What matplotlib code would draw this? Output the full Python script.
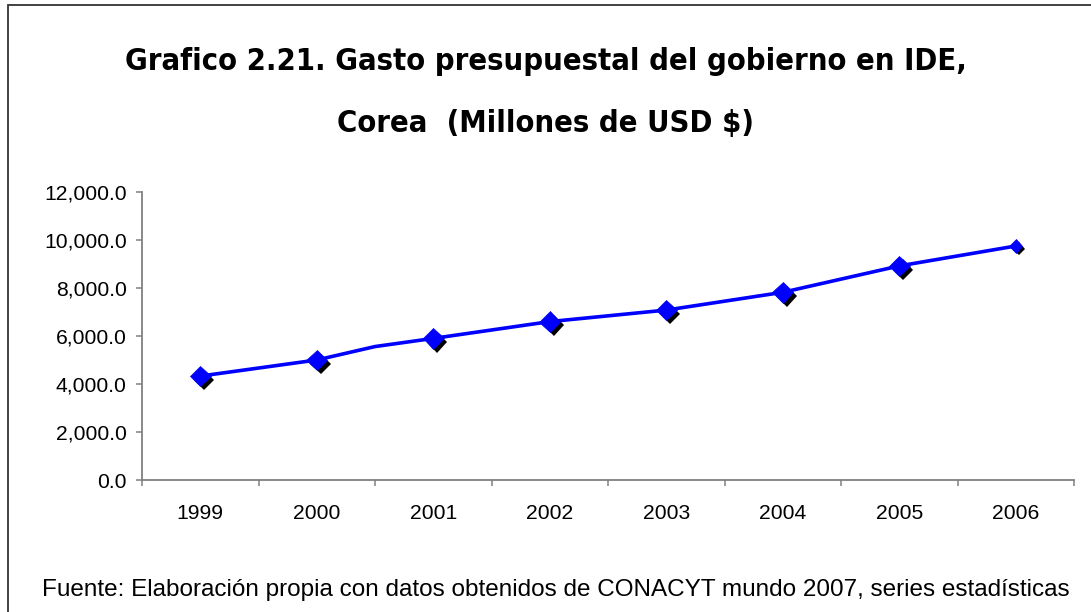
import matplotlib
matplotlib.use("Agg")
import matplotlib.pyplot as plt
import matplotlib.patheffects as pe
from matplotlib.patches import Rectangle
from matplotlib.ticker import FuncFormatter, FixedLocator
from matplotlib import font_manager as fm

# ---- data ----
years = ["1999", "2000", "2001", "2002", "2003", "2004", "2005", "2006"]
gasto = [4330, 5000, 5900, 6600, 7080, 7820, 8920, 9750]
# the drawn line has one extra bend between 2000 and 2001
line_pos = [0, 1, 1.5, 2, 3, 4, 5, 6, 7]
line_val = [4330, 5000, 5560, 5900, 6600, 7080, 7820, 8920, 9750]
yticks = [0, 2000, 4000, 6000, 8000, 10000, 12000]

title1 = "Grafico 2.21. Gasto presupuestal del gobierno en IDE,"
title2 = "Corea  (Millones de USD $)"
fuente = "Fuente: Elaboración propia con datos obtenidos de CONACYT mundo 2007, series estadísticas"

W, H = 1091, 612
fig = plt.figure(figsize=(W / 100, H / 100), dpi=100)
fig.patch.set_facecolor("white")

# outer chart frame (open at right/bottom, cropped)
fig.patches.append(Rectangle((8 / W, -0.1), 1.2, 1.1 - 5 / H,
                             transform=fig.transFigure, fill=False,
                             edgecolor="#333333", linewidth=1.3))

ax = fig.add_axes([142 / W, 1 - 480 / H, (1074 - 142) / W, (480 - 192) / H])
ax.set_facecolor("white")
x = list(range(len(years)))

ax.plot(line_pos, line_val, color="#0000FF", linewidth=2.6, solid_joinstyle="miter", zorder=3)

ax.plot(x[:-1], gasto[:-1], linestyle="none", marker="D", markersize=10.5,
        markerfacecolor="#0000FF", markeredgecolor="#0000FF", markeredgewidth=0.5,
        path_effects=[pe.SimplePatchShadow(offset=(2.8, -2.8), shadow_rgbFace="black", alpha=1.0), pe.Normal()],
        zorder=4)
ax.plot(x[-1:], gasto[-1:], linestyle="none", marker="D", markersize=6.8,
        markerfacecolor="#0000FF", markeredgecolor="#0000FF", markeredgewidth=0.5,
        path_effects=[pe.SimplePatchShadow(offset=(2.0, -2.0), shadow_rgbFace="black", alpha=1.0), pe.Normal()],
        zorder=4)

ax.set_xlim(-0.5, len(years) - 0.5)
ax.set_ylim(0, 12000)
ax.yaxis.set_major_locator(FixedLocator(yticks))
ax.yaxis.set_major_formatter(FuncFormatter(lambda v, p: f"{v:,.1f}"))

ax.set_xticks([i - 0.5 for i in range(len(years) + 1)])
ax.set_xticklabels([])
ax.set_xticks(x, minor=True)
ax.set_xticklabels(years, minor=True)

for s in ["top", "right"]:
    ax.spines[s].set_visible(False)
for s in ["left", "bottom"]:
    ax.spines[s].set_color("#808080")
    ax.spines[s].set_linewidth(1.3)

ax.tick_params(axis="both", which="major", direction="out", length=4, width=1.1,
               color="#808080", labelsize=15.2, labelcolor="black")
ax.tick_params(axis="y", pad=7)
ax.tick_params(axis="x", which="minor", length=0, pad=17, labelsize=15.2)
for lab in ax.get_yticklabels() + ax.get_xticklabels(minor=True):
    lab.set_fontfamily("Liberation Sans")

# titles: prefer an installed condensed/narrow bold face if there is one
tprops = dict(family="DejaVu Sans", fontweight="bold")
cond = None
for f in fm.fontManager.ttflist:
    name = (f.name + " " + f.fname).lower()
    is_bold = (isinstance(f.weight, int) and f.weight >= 600) or "bold" in str(f.weight).lower() or "bold" in name
    is_cond = ("condensed" in name or "narrow" in name or
               str(f.stretch) in ("condensed", "semi-condensed", "extra-condensed", "ultra-condensed")
               or (isinstance(f.stretch, int) and f.stretch < 500))
    if is_bold and is_cond and "italic" not in name and "oblique" not in name:
        cond = f
        break
if cond is not None:
    tprops = dict(fontproperties=fm.FontProperties(fname=cond.fname))

t1 = fig.text(0.5, 1 - 62 / H, title1, ha="center", va="center", color="black", **tprops)
t2 = fig.text(0.5, 1 - 124 / H, title2, ha="center", va="center", color="black", **tprops)
t1.set_fontsize(26)
t2.set_fontsize(26)
foot = fig.text(42 / W, 1 - 596 / H, fuente, ha="left", va="baseline",
                fontsize=15, family="Liberation Sans", color="black")

# fit text widths to the reference (title ~841 px, source note ~1040 px)
fig.canvas.draw()
r = fig.canvas.get_renderer()
fs = 26 * 841 / t1.get_window_extent(r).width
t1.set_fontsize(fs)
t2.set_fontsize(fs)
foot.set_fontsize(min(17.5, 15 * 1040 / foot.get_window_extent(r).width))

fig.savefig("out.png", dpi=100, facecolor="white")
